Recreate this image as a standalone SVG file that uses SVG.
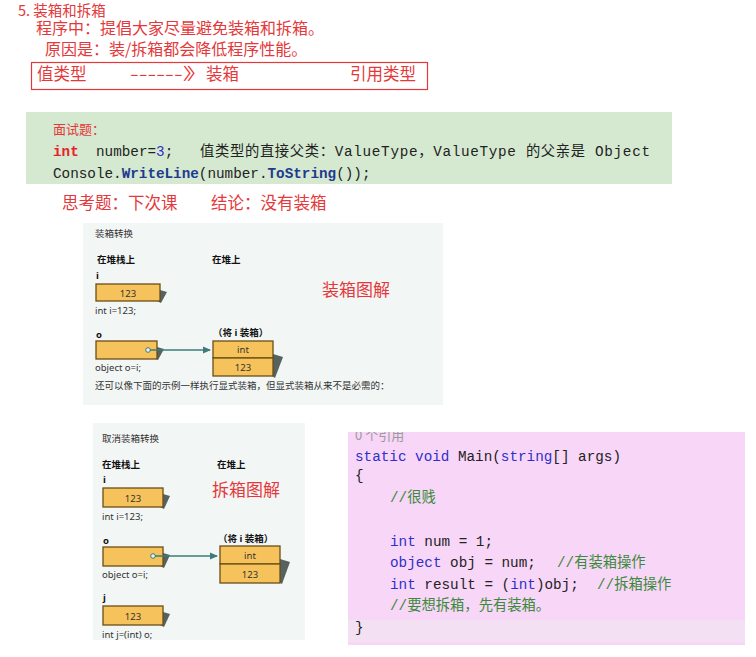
<svg xmlns="http://www.w3.org/2000/svg" width="756" height="657" viewBox="0 0 756 657">
<defs>
<style>
.cn{font-family:"Noto Sans CJK SC","Noto Sans",sans-serif;}
.red{fill:#e5383b;}
.t17{font-size:16.5px;}
.code{font-family:"Liberation Mono","Noto Sans CJK SC",monospace;font-size:14.3px;fill:#222;}
.kw{fill:#2f2fc8;}
.cm{fill:#3a8a3a;}
.small{font-family:"Noto Sans","Noto Sans CJK SC",sans-serif;font-size:9.5px;fill:#333;}
.bold{font-weight:bold;fill:#111;}
.ob{fill:#f6c25c;stroke:#6b4e16;stroke-width:1.3;}
.sh{fill:#55625f;}
.conn{stroke:#3d7b7b;stroke-width:1.5;fill:none;}
</style>
<marker id="ah" markerWidth="8" markerHeight="8" refX="7" refY="4" orient="auto" markerUnits="userSpaceOnUse">
<path d="M0,0.5 L8,4 L0,7.5 Z" fill="#3d7b7b"/>
</marker>
<clipPath id="pk"><rect x="348" y="432" width="397" height="213"/></clipPath>
</defs>
<rect width="756" height="657" fill="#ffffff"/>

<g id="heading" class="cn red">
<text x="18" y="16" font-size="14.5">5. 装箱和拆箱</text>
<text x="36" y="34" font-size="16">程序中：提倡大家尽量避免装箱和拆箱。</text>
<text x="45" y="55" font-size="16">原因是：装/拆箱都会降低程序性能。</text>
</g>

<g id="note-box">
<rect x="31.5" y="62.5" width="396" height="27" fill="none" stroke="#e5383b" stroke-width="1.2"/>
<g class="cn red t17">
<text x="37" y="80">值类型</text>
<text x="130" y="80" textLength="78" lengthAdjust="spacingAndGlyphs">------》</text>
<text x="206" y="80">装箱</text>
<text x="350" y="80">引用类型</text>
</g>
</g>

<g id="interview">
<rect x="26" y="112" width="646" height="72" fill="#d5e9d0"/>
<text x="53" y="134" class="cn red" font-size="13">面试题：</text>
<text class="code" y="156"><tspan x="53" fill="#e8202a" font-weight="bold">int</tspan><tspan x="96">number=</tspan><tspan fill="#2f2fc8">3</tspan><tspan>;</tspan></text>
<text class="code" x="200" y="156" textLength="450" lengthAdjust="spacing">值类型的直接父类：ValueType，ValueType 的父亲是 Object</text>
<text class="code" y="178"><tspan x="53">Console.</tspan><tspan fill="#1f3a8f" font-weight="bold">WriteLine</tspan><tspan>(number.</tspan><tspan fill="#1f3a8f" font-weight="bold">ToString</tspan><tspan>());</tspan></text>
</g>

<g id="think" class="cn red t17">
<text x="62" y="209">思考题：下次课</text>
<text x="211" y="209">结论：没有装箱</text>
</g>

<g id="boxing-panel">
<rect x="83" y="223" width="360" height="182" fill="#f2f6f5"/>
<text x="95" y="237" class="small">装箱转换</text>
<text x="97" y="263" class="small bold">在堆栈上</text>
<text x="212" y="263" class="small bold">在堆上</text>
<text x="322" y="296" class="cn red" font-size="17">装箱图解</text>
<g id="b-stack-i">
<text x="96" y="279" class="small bold">i</text>
<polygon class="sh" points="160,290 167,292 161,303 157,301"/>
<rect class="ob" x="96" y="284" width="64" height="17"/>
<text x="128" y="297" class="small" text-anchor="middle">123</text>
<text x="95" y="314" class="small">int i=123;</text>
</g>
<g id="b-stack-o">
<text x="96" y="338" class="small bold">o</text>
<polygon class="sh" points="157,347 164,349 158,360 154,358"/>
<rect class="ob" x="96" y="341" width="61" height="18"/>
<circle cx="148" cy="350" r="2.3" fill="#e9f2f0" stroke="#3d7b7b" stroke-width="1"/>
<text x="95" y="371" class="small">object o=i;</text>
</g>
<g id="b-heap">
<text x="213" y="336" class="small bold">（将 i 装箱）</text>
<polygon class="sh" points="273,354 283,357 275,378 272,376"/>
<rect class="ob" x="213" y="341" width="60" height="17"/>
<rect class="ob" x="213" y="358" width="60" height="18"/>
<text x="243" y="353" class="small" text-anchor="middle">int</text>
<text x="243" y="371" class="small" text-anchor="middle">123</text>
</g>
<text x="95" y="389" class="small">还可以像下面的示例一样执行显式装箱，但显式装箱从来不是必需的：</text>
</g>

<g id="unboxing-panel">
<rect x="93" y="423" width="212" height="217" fill="#f2f6f5"/>
<text x="102" y="442" class="small">取消装箱转换</text>
<text x="102" y="468" class="small bold">在堆栈上</text>
<text x="217" y="468" class="small bold">在堆上</text>
<text x="212" y="496" class="cn red" font-size="17">拆箱图解</text>
<g id="u-stack-i">
<text x="103" y="483" class="small bold">i</text>
<polygon class="sh" points="163,494 170,496 164,509 160,507"/>
<rect class="ob" x="103" y="488" width="60" height="19"/>
<text x="133" y="502" class="small" text-anchor="middle">123</text>
<text x="102" y="520" class="small">int i=123;</text>
</g>
<g id="u-stack-o">
<text x="103" y="544" class="small bold">o</text>
<polygon class="sh" points="163,553 170,555 164,568 160,566"/>
<rect class="ob" x="103" y="547" width="60" height="19"/>
<circle cx="153" cy="556" r="2.3" fill="#e9f2f0" stroke="#3d7b7b" stroke-width="1"/>
<text x="102" y="578" class="small">object o=i;</text>
</g>
<g id="u-heap">
<text x="218" y="542" class="small bold">（将 i 装箱）</text>
<polygon class="sh" points="280,559 290,562 282,584 279,582"/>
<rect class="ob" x="220" y="546" width="60" height="18"/>
<rect class="ob" x="220" y="564" width="60" height="19"/>
<text x="250" y="559" class="small" text-anchor="middle">int</text>
<text x="250" y="578" class="small" text-anchor="middle">123</text>
</g>
<g id="u-stack-j">
<text x="103" y="601" class="small bold">j</text>
<polygon class="sh" points="163,612 170,614 164,627 160,625"/>
<rect class="ob" x="103" y="606" width="60" height="19"/>
<text x="133" y="620" class="small" text-anchor="middle">123</text>
<text x="102" y="638" class="small">int j=(int) o;</text>
</g>
</g>

<g id="connectors">
<line class="conn" x1="150" y1="350" x2="210" y2="350" marker-end="url(#ah)"/>
<line class="conn" x1="155" y1="556" x2="217" y2="556" marker-end="url(#ah)"/>
</g>

<g id="code-panel">
<rect x="348" y="432" width="397" height="213" fill="#f8d6f8"/>
<rect x="348" y="620" width="397" height="22" fill="#f3e0f3"/>
<g clip-path="url(#pk)">
<text x="355" y="440" class="cn" font-size="13" fill="#9a9a9a">0 个引用</text>
</g>
<text class="code" y="461"><tspan x="355" class="kw">static void</tspan><tspan> Main(</tspan><tspan class="kw">string</tspan><tspan>[] args)</tspan></text>
<text class="code" x="355" y="480" fill="#4a5a3a">{</text>
<text class="code cm" x="390" y="502">//很贱</text>
<text class="code" y="546"><tspan x="390" class="kw">int</tspan><tspan> num = 1;</tspan></text>
<text class="code" y="567"><tspan x="390" class="kw">object</tspan><tspan> obj = num;</tspan><tspan x="557" class="cm">//有装箱操作</tspan></text>
<text class="code" y="589"><tspan x="390" class="kw">int</tspan><tspan> result = (</tspan><tspan class="kw">int</tspan><tspan>)obj;</tspan><tspan x="597" class="cm">//拆箱操作</tspan></text>
<text class="code cm" x="390" y="610">//要想拆箱，先有装箱。</text>
<text class="code" x="355" y="632" fill="#4a5a3a">}</text>
</g>
</svg>
